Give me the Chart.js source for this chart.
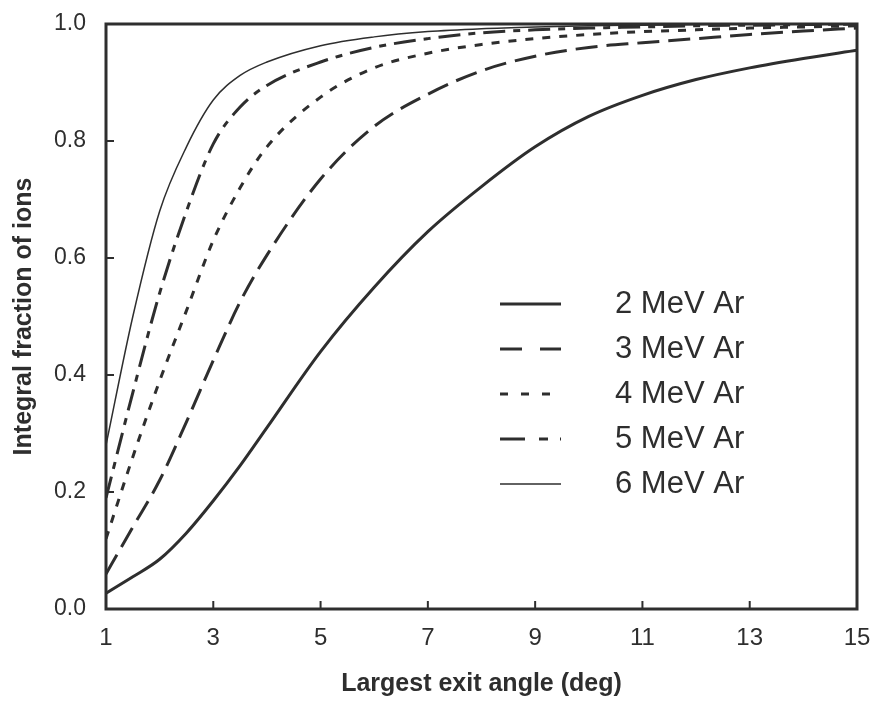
<!DOCTYPE html>
<html>
<head>
<meta charset="utf-8">
<script src="https://cdn.jsdelivr.net/npm/chart.js@4/dist/chart.umd.min.js"></script>
<style>
  html, body { margin: 0; padding: 0; background: #fff; }
  #wrap { width: 878px; height: 705px; }
</style>
</head>
<body>
<div id="wrap"><canvas id="c" width="878" height="705"></canvas></div>
<script>
// Exit angle grid (deg)
const angles = [1, 1.5, 2, 2.5, 3, 3.5, 4, 5, 6, 7, 8, 9, 10, 11, 12, 13, 14, 15];

// Integral fraction of ions for each beam energy
const ar2MeV = [0.027, 0.055, 0.085, 0.13, 0.185, 0.245, 0.31, 0.44, 0.55, 0.645, 0.722, 0.79, 0.842, 0.878, 0.905, 0.925, 0.941, 0.955];
const ar3MeV = [0.06, 0.14, 0.22, 0.32, 0.425, 0.525, 0.605, 0.735, 0.825, 0.88, 0.92, 0.945, 0.96, 0.968, 0.975, 0.982, 0.988, 0.993];
const ar4MeV = [0.12, 0.26, 0.39, 0.51, 0.63, 0.72, 0.79, 0.875, 0.925, 0.95, 0.965, 0.975, 0.982, 0.987, 0.99, 0.993, 0.995, 0.997];
const ar5MeV = [0.19, 0.37, 0.54, 0.68, 0.795, 0.858, 0.895, 0.935, 0.96, 0.975, 0.985, 0.99, 0.993, 0.995, 0.997, 0.998, 0.999, 1.0];
const ar6MeV = [0.28, 0.50, 0.68, 0.79, 0.87, 0.912, 0.935, 0.963, 0.978, 0.987, 0.992, 0.995, 0.997, 0.998, 0.999, 1.0, 1.0, 1.0];

const seriesLabels = ['2 MeV Ar', '3 MeV Ar', '4 MeV Ar', '5 MeV Ar', '6 MeV Ar'];
const seriesValues = [ar2MeV, ar3MeV, ar4MeV, ar5MeV, ar6MeV];

const xTicks = [1, 3, 5, 7, 9, 11, 13, 15];
const yTicks = [0, 0.2, 0.4, 0.6, 0.8, 1.0];

const INK = '#2e2e2e';
const FONT = "'Liberation Sans', Arial, sans-serif";

// line styles per series
const styles = [
  { width: 3,   dash: [],              legendDash: [] },
  { width: 3,   dash: [22, 9],         legendDash: [22, 18] },
  { width: 3,   dash: [8, 9],          legendDash: [8, 13] },
  { width: 3,   dash: [22, 8, 7, 8],   legendDash: [25, 14, 9, 12, 2, 40] },
  { width: 1.5, dash: [],              legendDash: [] }
];

const datasets = seriesValues.map((vals, i) => ({
  label: seriesLabels[i],
  data: angles.map((a, k) => ({ x: a, y: vals[k] })),
  borderColor: INK,
  borderWidth: styles[i].width,
  borderDash: styles[i].dash,
  pointRadius: 0,
  fill: false,
  cubicInterpolationMode: 'monotone',
  legendDash: styles[i].legendDash
}));

// Box frame with inward tick marks
const framePlugin = {
  id: 'frame',
  afterDatasetsDraw(chart) {
    const { ctx, chartArea: a, scales } = chart;
    ctx.save();
    ctx.strokeStyle = INK;
    ctx.lineWidth = 2;
    xTicks.forEach(v => {
      const px = scales.x.getPixelForValue(v);
      ctx.beginPath();
      ctx.moveTo(px, a.bottom);
      ctx.lineTo(px, a.bottom - 8);
      ctx.stroke();
    });
    yTicks.forEach(v => {
      const py = scales.y.getPixelForValue(v);
      ctx.beginPath();
      ctx.moveTo(a.left, py);
      ctx.lineTo(a.left + 8, py);
      ctx.stroke();
    });
    ctx.lineWidth = 3;
    ctx.strokeRect(a.left, a.top, a.right - a.left, a.bottom - a.top);
    ctx.restore();
  }
};

// Legend drawn inside the plot area
const insideLegend = {
  id: 'insideLegend',
  afterDraw(chart) {
    const { ctx } = chart;
    const x0 = 500, x1 = 561, tx = 615, y0 = 304, step = 45;
    ctx.save();
    chart.data.datasets.forEach((ds, i) => {
      const y = y0 + i * step;
      ctx.strokeStyle = INK;
      ctx.lineWidth = ds.borderWidth;
      ctx.setLineDash(ds.legendDash);
      ctx.beginPath();
      ctx.moveTo(x0, y);
      ctx.lineTo(x1, y);
      ctx.stroke();
      ctx.setLineDash([]);
      ctx.fillStyle = INK;
      ctx.font = '31px ' + FONT;
      ctx.textBaseline = 'middle';
      ctx.textAlign = 'left';
      ctx.fillText(ds.label, tx, y);
    });
    ctx.restore();
  }
};

new Chart(document.getElementById('c'), {
  type: 'line',
  data: { datasets },
  options: {
    responsive: false,
    animation: false,
    layout: { padding: { top: 24, right: 21, bottom: 6, left: 9 } },
    plugins: {
      legend: { display: false },
      tooltip: { enabled: false }
    },
    scales: {
      x: {
        type: 'linear',
        min: 1, max: 15,
        afterBuildTicks(s) { s.ticks = xTicks.map(v => ({ value: v })); },
        afterFit(s) { s.height = 90; s.paddingLeft = 0; s.paddingRight = 0; },
        grid: { display: false, drawTicks: false },
        border: { display: false },
        ticks: {
          color: INK,
          font: { family: FONT, size: 24 },
          padding: 15,
          maxRotation: 0,
          callback: v => String(v)
        },
        title: {
          display: true,
          text: 'Largest exit angle (deg)',
          color: INK,
          font: { family: FONT, size: 25, weight: 'bold' },
          padding: 0
        }
      },
      y: {
        min: 0, max: 1,
        afterBuildTicks(s) { s.ticks = yTicks.map(v => ({ value: v })); },
        afterFit(s) { s.width = 97; s.paddingTop = 0; s.paddingBottom = 0; },
        grid: { display: false, drawTicks: false },
        border: { display: false },
        ticks: {
          color: INK,
          font: { family: FONT, size: 23 },
          padding: 20,
          callback: v => v.toFixed(1)
        },
        title: {
          display: true,
          text: 'Integral fraction of ions',
          color: INK,
          font: { family: FONT, size: 25, weight: 'bold' },
          padding: 0
        }
      }
    }
  },
  plugins: [framePlugin, insideLegend]
});
</script>
</body>
</html>
